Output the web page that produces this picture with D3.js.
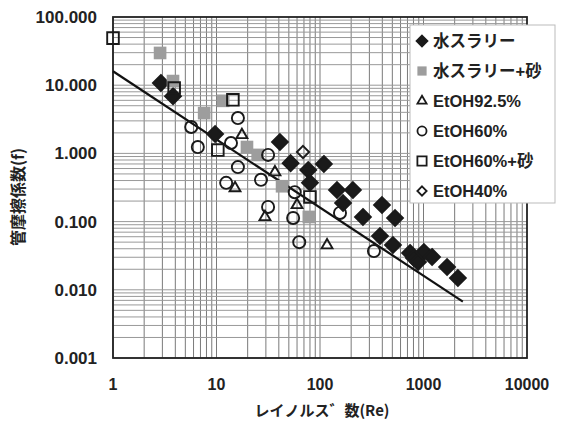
<!DOCTYPE html>
<html>
<head>
<meta charset="utf-8">
<script src="https://cdn.jsdelivr.net/npm/d3@7"></script>
<style>
  body { margin: 0; background: #fff; }
  text { font-family: "Liberation Sans", Arial, "Noto Sans CJK JP", sans-serif; fill: #222; }
</style>
</head>
<body>
<svg width="562" height="424"></svg>
<script>
// series data (Re, f)
const reSlurry = [2.9, 3.8, 9.7, 41, 52, 77, 80, 109, 146, 208, 167, 260, 397, 531, 380, 507, 741, 809, 885, 1010, 1210, 1690, 2150];
const fSlurry  = [10.8, 6.9, 1.92, 1.47, 0.72, 0.57, 0.37, 0.70, 0.29, 0.29, 0.187, 0.117, 0.175, 0.113, 0.0615, 0.0454, 0.0347, 0.0292, 0.0256, 0.0358, 0.0303, 0.0216, 0.0149];
const reSlurrySand = [2.85, 3.8, 7.6, 11.6, 19.7, 25, 43, 78];
const fSlurrySand  = [29.7, 11.5, 3.9, 5.9, 1.24, 0.95, 0.33, 0.117];
const reEt925 = [17.6, 36.7, 15.1, 29.4, 60, 117];
const fEt925  = [1.86, 0.53, 0.31, 0.117, 0.175, 0.045];
const reEt60 = [5.7, 16.1, 6.6, 13.8, 16.1, 12.4, 31.5, 26.9, 57, 31.5, 55, 63, 156, 332];
const fEt60  = [2.44, 3.3, 1.24, 1.42, 0.63, 0.37, 0.95, 0.41, 0.27, 0.164, 0.113, 0.05, 0.134, 0.037];
const reEt60Sand = [1, 3.9, 14.4, 10.3, 80];
const fEt60Sand  = [49, 9.1, 6.1, 1.12, 0.23];
const reEt40 = [68.5];
const fEt40  = [1.05];
// laminar line f = 16/Re, end points
const reLine = [1, 2400];
const fLine  = [16, 0.0067];

const xTicks = [1, 10, 100, 1000, 10000];
const yTicks = [0.001, 0.01, 0.1, 1, 10, 100];
const yTickLabels = ["0.001", "0.010", "0.100", "1.000", "10.000", "100.000"];
const seriesNames = ["水スラリー", "水スラリー+砂", "EtOH92.5%", "EtOH60%", "EtOH60%+砂", "EtOH40%"];

const svg = d3.select('svg');
const x = d3.scaleLog().domain([1, 10000]).range([113, 527]);
const y = d3.scaleLog().domain([0.001, 100]).range([358, 17]);

// gridlines at 1..9 of every decade
const grid = svg.append('g');
const xMinor = [], yMinor = [];
for (let d = 0; d < 4; d++) for (let k = 1; k < 10; k++) xMinor.push(k * Math.pow(10, d));
for (let d = -3; d < 2; d++) for (let k = 1; k < 10; k++) yMinor.push(k * Math.pow(10, d));
grid.selectAll('line.v').data(xMinor).enter().append('line')
  .attr('x1', d => x(d)).attr('x2', d => x(d)).attr('y1', 17).attr('y2', 358)
  .style('stroke', '#7a7a7a').style('stroke-width', 1);
grid.selectAll('line.h').data(yMinor).enter().append('line')
  .attr('y1', d => y(d)).attr('y2', d => y(d)).attr('x1', 113).attr('x2', 527)
  .style('stroke', '#999').style('stroke-width', 1);

svg.append('rect').attr('x', 113).attr('y', 17).attr('width', 414).attr('height', 341)
  .style('fill', 'none').style('stroke', '#222').style('stroke-width', 1.8);

// tick labels
svg.selectAll('text.xt').data(xTicks).enter().append('text')
  .attr('x', d => x(d)).attr('y', 390).attr('text-anchor', 'middle')
  .style('font-size', '16px').style('font-weight', 'bold').text(d => d);
svg.selectAll('text.yt').data(yTicks).enter().append('text')
  .attr('x', 97).attr('y', d => y(d) + 6).attr('text-anchor', 'end')
  .style('font-size', '17px').style('font-weight', 'bold').text((d, i) => yTickLabels[i]);

// axis titles
svg.append('text').attr('transform', 'translate(24,197) rotate(-90)')
  .attr('text-anchor', 'middle').style('font-size', '16px').style('font-weight', 'bold')
  .style('font-family', '"Noto Sans CJK JP", sans-serif').text('管摩擦係数(f)');
svg.append('text').attr('x', 322).attr('y', 416).attr('text-anchor', 'middle')
  .style('font-size', '15px').style('font-weight', 'bold')
  .style('font-family', '"Noto Sans CJK JP", sans-serif').text('レイノルス゛数(Re)');

// fitted line
svg.append('path')
  .datum(reLine.map((r, i) => [r, fLine[i]]))
  .attr('d', d3.line().x(d => x(d[0])).y(d => y(d[1])))
  .style('stroke', '#111').style('stroke-width', 2.2).style('fill', 'none');

const sym = {
  diamond: d3.symbol().type(d3.symbolDiamond2).size(160),
  square: d3.symbol().type(d3.symbolSquare).size(160),
  triangle: d3.symbol().type(d3.symbolTriangle2).size(85),
  circle: d3.symbol().type(d3.symbolCircle).size(115),
  osquare: d3.symbol().type(d3.symbolSquare).size(135),
  odiamond: d3.symbol().type(d3.symbolDiamond2).size(95)
};
const series = [
  { re: reSlurry, f: fSlurry, s: sym.diamond, fill: '#1a1a1a', stroke: '#1a1a1a' },
  { re: reSlurrySand, f: fSlurrySand, s: sym.square, fill: '#9d9d9d', stroke: 'none' },
  { re: reEt925, f: fEt925, s: sym.triangle, fill: 'none', stroke: '#1a1a1a' },
  { re: reEt60, f: fEt60, s: sym.circle, fill: 'none', stroke: '#1a1a1a' },
  { re: reEt60Sand, f: fEt60Sand, s: sym.osquare, fill: 'none', stroke: '#1a1a1a' },
  { re: reEt40, f: fEt40, s: sym.odiamond, fill: 'none', stroke: '#1a1a1a' }
];
series.forEach(ser => {
  svg.append('g').selectAll('path').data(ser.re.map((r, i) => [r, ser.f[i]])).enter().append('path')
    .attr('transform', d => `translate(${x(d[0])},${y(d[1])})`)
    .attr('d', ser.s)
    .style('fill', ser.fill).style('stroke', ser.stroke).style('stroke-width', 1.9);
});

// legend
const leg = svg.append('g');
leg.append('rect').attr('x', 410).attr('y', 25).attr('width', 145).attr('height', 178)
  .style('fill', '#fff').style('stroke', '#bbb').style('stroke-width', 1);
const legSyms = [
  d3.symbol().type(d3.symbolDiamond2).size(75),
  d3.symbol().type(d3.symbolSquare).size(85),
  d3.symbol().type(d3.symbolTriangle2).size(60),
  d3.symbol().type(d3.symbolCircle).size(65),
  d3.symbol().type(d3.symbolSquare).size(85),
  d3.symbol().type(d3.symbolDiamond2).size(55)
];
seriesNames.forEach((name, i) => {
  const cy = 41 + i * 30;
  leg.append('path').attr('transform', `translate(422,${cy})`).attr('d', legSyms[i])
    .style('fill', series[i].fill).style('stroke', series[i].stroke).style('stroke-width', 1.8);
  leg.append('text').attr('x', 433).attr('y', cy + 6)
    .style('font-size', '16.5px').style('font-weight', 'bold')
    .style('font-family', '"Liberation Sans", "Noto Sans CJK JP", sans-serif').text(name);
});
</script>
</body>
</html>
